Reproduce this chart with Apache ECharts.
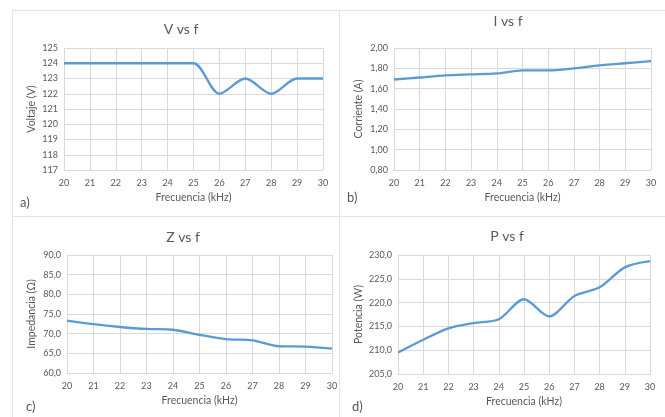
<!DOCTYPE html>
<html>
<head>
<meta charset="utf-8">
<script src="https://cdn.jsdelivr.net/npm/echarts@6/dist/echarts.min.js"></script>
<style>
  html, body { margin: 0; padding: 0; background: #fff; }
  #chart { width: 665px; height: 417px; }
</style>
</head>
<body>
<div id="chart"></div>
<script>
// frecuencia en kHz
const freq = [20, 21, 22, 23, 24, 25, 26, 27, 28, 29, 30]
// valores
const voltaje = [124, 124, 124, 124, 124, 124, 122, 123, 122, 123, 123]
const corriente = [1.69, 1.71, 1.73, 1.74, 1.75, 1.78, 1.78, 1.80, 1.83, 1.85, 1.87]
const impedancia = [73.3, 72.4, 71.7, 71.2, 71.0, 69.7, 68.6, 68.3, 66.8, 66.7, 66.2]
const potencia = [209.5, 212.2, 214.6, 215.7, 216.5, 220.7, 217.1, 221.4, 223.2, 227.4, 228.7]

const titles = ['V vs f', 'I vs f', 'Z vs f', 'P vs f']
const yNames = ['Voltaje (V)', 'Corriente (A)', 'Impedancia (Ω)', 'Potencia (W)']
const panelTags = ['a)', 'b)', 'c)', 'd)']

const TEXT = '#595959'
const GRID_LINE = '#D9D9D9'
const LINE = '#5B9BD5'
const FONT = 'Lato'

const grids = [
  { left: 64, top: 48, width: 259, height: 122 },
  { left: 394, top: 48, width: 257, height: 122 },
  { left: 67, top: 255, width: 265, height: 118 },
  { left: 398, top: 255, width: 252, height: 119 }
]

const yCfg = [
  { min: 117, max: 125, interval: 1, dec: 0, gap: 27 },
  { min: 0.8, max: 2.0, interval: 0.2, dec: 2, gap: 30 },
  { min: 60, max: 90, interval: 5, dec: 1, gap: 30 },
  { min: 205, max: 230, interval: 5, dec: 1, gap: 34 }
]

const fmt = (v, dec) => v.toFixed(dec).replace('.', ',')

const pairs = arr => freq.map((f, i) => [f, arr[i]])
const seriesData = [voltaje, corriente, impedancia, potencia]

const chart = echarts.init(document.getElementById('chart'), null, { renderer: 'canvas' })

chart.setOption({
  animation: false,
  textStyle: { fontFamily: FONT },
  title: [
    { text: titles[0], left: 176, top: 17 },
    { text: titles[1], left: 503, top: 9 },
    { text: titles[2], left: 178, top: 225 },
    { text: titles[3], left: 502, top: 224 }
  ].map(t => ({
    text: t.text,
    left: t.left,
    top: t.top,
    textAlign: 'center',
    textStyle: { fontFamily: FONT, fontSize: 14, fontWeight: 'normal', color: TEXT }
  })),
  grid: grids,
  xAxis: grids.map((g, i) => ({
    gridIndex: i,
    type: 'value',
    min: 20,
    max: 30,
    interval: 1,
    name: 'Frecuencia (kHz)',
    nameLocation: 'middle',
    nameGap: 22,
    nameTextStyle: { color: TEXT, fontSize: 10.5, fontFamily: FONT },
    axisLine: { show: true, lineStyle: { color: GRID_LINE } },
    axisTick: { show: false },
    axisLabel: { color: TEXT, fontSize: 9, fontFamily: FONT, margin: 9 },
    splitLine: { show: true, lineStyle: { color: GRID_LINE } }
  })),
  yAxis: yCfg.map((c, i) => ({
    gridIndex: i,
    type: 'value',
    min: c.min,
    max: c.max,
    interval: c.interval,
    name: yNames[i],
    nameLocation: 'middle',
    nameGap: c.gap,
    nameTextStyle: { color: TEXT, fontSize: 10.5, fontFamily: FONT },
    axisLine: { show: true, lineStyle: { color: GRID_LINE } },
    axisTick: { show: false },
    axisLabel: {
      color: TEXT,
      fontSize: 9,
      fontFamily: FONT,
      margin: 6,
      formatter: v => fmt(v, c.dec)
    },
    splitLine: { show: true, lineStyle: { color: GRID_LINE } }
  })),
  series: seriesData.map((arr, i) => ({
    type: 'line',
    xAxisIndex: i,
    yAxisIndex: i,
    data: pairs(arr),
    smooth: 0.3,
    showSymbol: false,
    lineStyle: { color: LINE, width: 2.3 },
    itemStyle: { color: LINE }
  })),
  graphic: [
    // marco de los paneles
    { type: 'line', shape: { x1: 12, y1: 10.5, x2: 665, y2: 10.5 }, style: { stroke: '#E3E3E3', lineWidth: 1 } },
    { type: 'line', shape: { x1: 12, y1: 216.5, x2: 665, y2: 216.5 }, style: { stroke: '#E3E3E3', lineWidth: 1 } },
    { type: 'line', shape: { x1: 12.5, y1: 10, x2: 12.5, y2: 417 }, style: { stroke: '#E3E3E3', lineWidth: 1 } },
    { type: 'line', shape: { x1: 339.5, y1: 10, x2: 339.5, y2: 417 }, style: { stroke: '#E3E3E3', lineWidth: 1 } },
    ...[[20, 203], [347, 198], [26, 407], [352, 407]].map((p, i) => ({
      type: 'text',
      x: p[0],
      y: p[1],
      style: {
        text: panelTags[i],
        fontFamily: FONT,
        fontSize: 13,
        fill: TEXT,
        textVerticalAlign: 'middle'
      }
    }))
  ]
})
</script>
</body>
</html>
